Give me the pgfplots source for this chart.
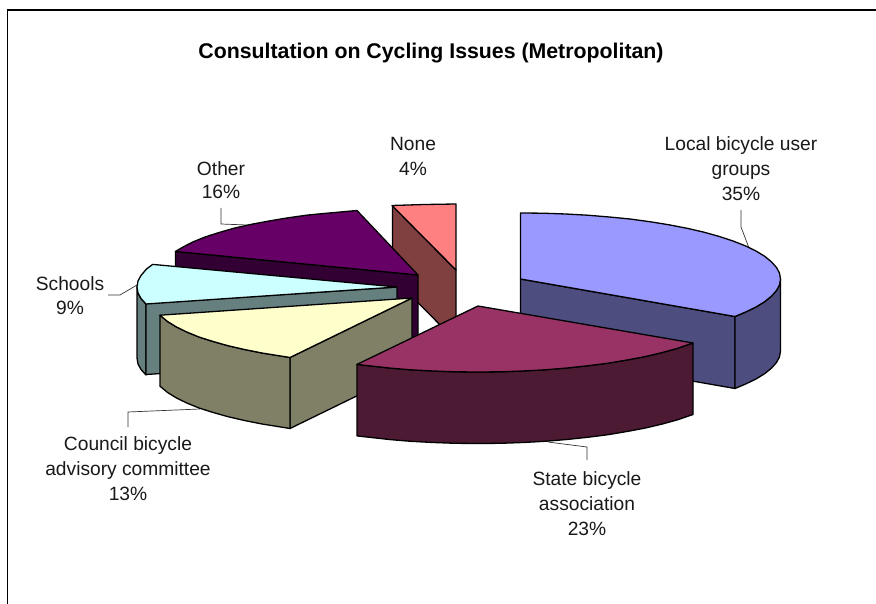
\documentclass[border=0pt]{standalone}
\usepackage{pgfplots}
\usepackage{fontspec}
\setmainfont{Liberation Sans}
\pgfplotsset{compat=1.18}
\definecolor{bluetop}{HTML}{9999FF}\definecolor{blueside}{HTML}{4D4D80}
\definecolor{redtop}{HTML}{993366}\definecolor{redside}{HTML}{4D1A33}
\definecolor{pinktop}{HTML}{FF8080}\definecolor{pinkside}{HTML}{804040}
\definecolor{yeltop}{HTML}{FFFFCC}\definecolor{yelside}{HTML}{808066}
\definecolor{cyantop}{HTML}{CCFFFF}\definecolor{cyanside}{HTML}{668080}
\definecolor{purtop}{HTML}{660066}\definecolor{purside}{HTML}{330033}
\tikzset{
  pie/.style={draw=black, line width=1.3pt, line join=round},
  lead/.style={draw=black!80, line width=0.7pt},
  lab/.style={font=\fontsize{19.2}{23}\selectfont, anchor=base, inner sep=0pt, text=black!90},
}
\begin{document}
\begin{tikzpicture}
\begin{axis}[
  scale only axis, width=876pt, height=604pt,
  xmin=0, xmax=876, ymin=0, ymax=604, y dir=reverse,
  hide axis, clip=true,
]
% canvas
\addplot[draw=white, fill=white, line width=0pt] coordinates {(0,0)(876,0)(876,604)(0,604)} -- cycle;
% frame
\addplot[draw=black, line width=1.4pt] coordinates {(7.5,604)(7.5,10)(876,10)};
% leaders
\addplot[lead] coordinates {(741,210)(741,227)(749,248)};
\addplot[lead] coordinates {(548,442)(587,447)(587,460)};
\addplot[lead] coordinates {(200,409)(128,412)(128,427)};
\addplot[lead] coordinates {(137,285)(120,295)(108,295)};
\addplot[lead] coordinates {(247,225)(221,224)(221,208)};
% None
\addplot[pie, fill=pinkside] coordinates {(392.5,206)(456,270)(456,341)(392.5,277)} -- cycle;
\addplot[pie, fill=pinktop] coordinates {(392,205.5)(424.3,204.5)(456,204)(456,270)} -- cycle;
% Other
\addplot[pie, fill=purside] coordinates {(175.5,251.5)(418,275)(418,346)(175.5,322.5)} -- cycle;
\addplot[pie, fill=purtop] coordinates {(418,275)(357,210.5)(329.1,213)(308,215)(288,217.8)(269,221)(250.9,224.4)(234,228.2)(218.8,232.6)(205,237)(192.8,242)(183,247)(175.5,251.5)} -- cycle;
% Schools
\addplot[pie, fill=cyanside] coordinates {(137,287)(138,293)(141,298.5)(146,304)(146,375)(141,369.5)(138,364)(137,358)} -- cycle;
\addplot[pie, fill=cyanside] coordinates {(146,303.5)(397,287)(397,358)(146,374.5)} -- cycle;
\addplot[pie, fill=cyantop] coordinates {(397,287)(152.7,264.4)(146.5,269)(141,275.5)(138,281)(137,287)(138,293)(141,298.5)(146,304)} -- cycle;
% Council
\addplot[pie, fill=yelside] coordinates {(412,298)(290,357.5)(290,428.5)(412,369)} -- cycle;
\addplot[pie, fill=yelside] coordinates {(160,315.2)(167.7,321.6)(176.5,327)(186.8,332)(199,337)(212.8,341.4)(228,345.7)(244.9,349.6)(262,353)(282,356.2)(290,357.5)(290,428.5)(282,427.2)(262,424)(244.9,420.6)(228,416.7)(212.8,412.4)(199,408)(186.8,403)(176.5,398)(167.7,392.6)(160,386.2)} -- cycle;
\addplot[pie, fill=yeltop] coordinates {(412,298)(160,315.2)(167.7,321.6)(176.5,327)(186.8,332)(199,337)(212.8,341.4)(228,345.7)(244.9,349.6)(262,353)(282,356.2)(290,357.5)} -- cycle;
% Local
\addplot[pie, fill=blueside] coordinates {(520.5,279)(735,316.5)(735,388.5)(520.5,351)} -- cycle;
\addplot[pie, fill=blueside] coordinates {(735,316.5)(745.7,312)(756,307)(764.8,301.6)(771.6,296)(776.5,290.5)(779.5,285)(780.5,279)(780.5,351)(779.5,357)(776.5,362.5)(771.6,368)(764.8,373.6)(756,379)(745.7,384)(735,388.5)} -- cycle;
\addplot[pie, fill=bluetop] coordinates {(520.5,213)(543,213.2)(565.6,214)(587.6,215.2)(609.4,217)(630,219)(650.5,221.8)(669,224.8)(687.6,228.4)(704,232.2)(719.7,236.6)(733,241)(745.7,246)(756,251)(764.8,256.4)(771.6,262)(776.5,267.5)(779.5,273)(780.5,279)(779.5,285)(776.5,290.5)(771.6,296)(764.8,301.6)(756,307)(745.7,312)(735,316.5)(520.5,279)} -- cycle;
% State
\addplot[pie, fill=redside] coordinates {(357,364.4)(389.1,368)(410.5,369.8)(432.9,371)(455.4,371.8)(478,372)(500.6,371.8)(523.1,371)(545,369.8)(566.9,368)(587.6,365.8)(608,363.2)(627,360)(645.1,356.6)(662,352.6)(677.2,348.4)(693,343)(693,414.5)(677.2,419.9)(662,424.1)(645.1,428.1)(627,431.5)(608,434.7)(587.6,437.3)(566.9,439.5)(545,441.3)(523.1,442.5)(500.6,443.3)(478,443.5)(455.4,443.3)(432.9,442.5)(410.5,441.3)(389.1,439.5)(357,435.9)} -- cycle;
\addplot[pie, fill=redtop] coordinates {(478,306)(693,343)(677.2,348.4)(662,352.6)(645.1,356.6)(627,360)(608,363.2)(587.6,365.8)(566.9,368)(545,369.8)(523.1,371)(500.6,371.8)(478,372)(455.4,371.8)(432.9,371)(410.5,369.8)(389.1,368)(357,364.4)} -- cycle;
% text
\node[lab, font=\bfseries\fontsize{21.3}{25}\selectfont, text=black] at (axis cs:431,58.5) {Consultation on Cycling Issues (Metropolitan)};
\node[lab] at (axis cs:413,150.5) {None};
\node[lab] at (axis cs:413,176) {4\%};
\node[lab] at (axis cs:221,175.5) {Other};
\node[lab] at (axis cs:221,199) {16\%};
\node[lab] at (axis cs:741,150.5) {Local bicycle user};
\node[lab] at (axis cs:741,175.5) {groups};
\node[lab] at (axis cs:741,201) {35\%};
\node[lab] at (axis cs:70,290.5) {Schools};
\node[lab] at (axis cs:70,314.5) {9\%};
\node[lab] at (axis cs:587,485.5) {State bicycle};
\node[lab] at (axis cs:587,510.5) {association};
\node[lab] at (axis cs:587,535.5) {23\%};
\node[lab] at (axis cs:128,450.5) {Council bicycle};
\node[lab] at (axis cs:128,475.5) {advisory committee};
\node[lab] at (axis cs:128,500.5) {13\%};
\end{axis}
\end{tikzpicture}
\end{document}
